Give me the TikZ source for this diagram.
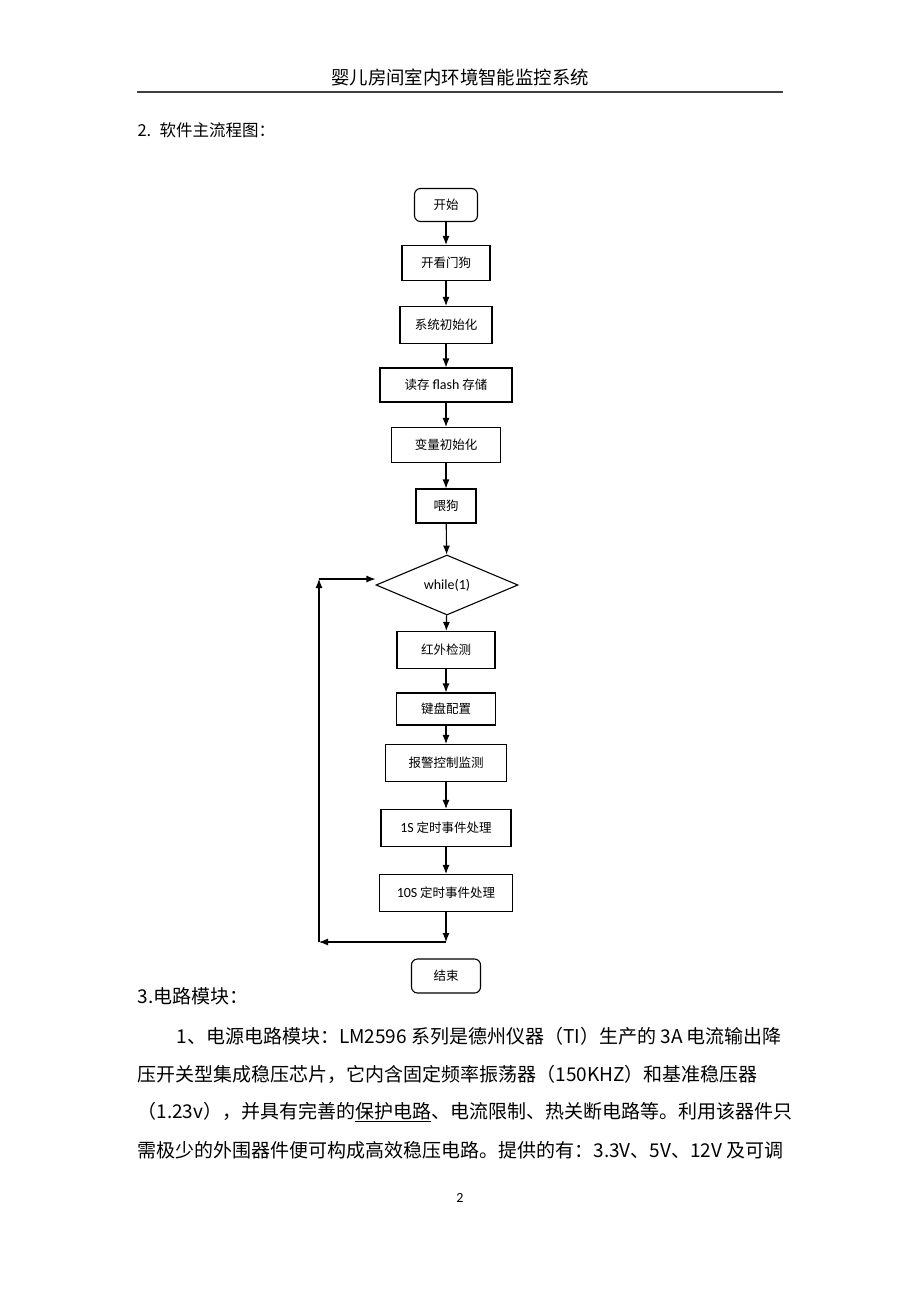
\documentclass[tikz,border=0pt]{standalone}
\usepackage{fontspec}
\setmainfont{Liberation Serif}
\newfontfamily\cjk{Noto Sans CJK SC}
\newfontfamily\latfont{Carlito}
\newcommand\lat[1]{{\latfont\fontsize{14}{15}\selectfont #1}}
\usetikzlibrary{shapes.geometric,arrows.meta}

\begin{document}
\begin{tikzpicture}[x=1pt,y=-1pt,>={Latex[length=9pt,width=7pt]},line width=1.1pt,
    flow node/.style={rectangle,draw,inner sep=0pt,minimum height=36pt,font=\cjk\fontsize{12.5}{14}\selectfont},
    term node/.style={flow node,rounded corners=6pt,minimum height=34pt},
    cond node/.style={diamond,draw,inner sep=0pt,minimum width=142pt,minimum height=60pt,font=\latfont\fontsize{14}{15}\selectfont},
    text line/.style={anchor=west,inner sep=0pt,font=\cjk\fontsize{19}{22}\selectfont}]

    \useasboundingbox (0,0) rectangle (920,1302);
    \fill[white] (0,0) rectangle (920,1302);

    % page header
    \node[font=\cjk\fontsize{18.4}{20}\selectfont] (head) at (460,77) {婴儿房间室内环境智能监控系统};
    \coordinate (hl) at (137,92);
    \coordinate (hr) at (783,92);
    \draw[line width=1.4pt,black!75] (hl) -- (hr);
    \node[text line,font=\cjk\fontsize{16.5}{18}\selectfont] (sec2) at (137,130) {2.\enspace 软件主流程图：};

    % flow chart
    \node[term node,minimum width=63pt,minimum height=33pt] (start) at (446,205) {开始};
    \node[flow node,minimum width=88pt,minimum height=35pt] (wdog) at (446,263) {开看门狗};
    \node[flow node,minimum width=92pt,minimum height=37pt] (sysinit) at (446,325) {系统初始化};
    \node[flow node,minimum width=132pt,minimum height=34pt] (flash) at (446,385) {读存 \lat{flash} 存储};
    \node[flow node,minimum width=109pt,minimum height=35pt] (varinit) at (446,445) {变量初始化};
    \node[flow node,minimum width=60pt,minimum height=34pt] (feed) at (446,506) {喂狗};
    \node[cond node] (loop) at (447,585) {while(1)};
    \node[flow node,minimum width=98pt,minimum height=37pt] (ir) at (446,650) {红外检测};
    \node[flow node,minimum width=99pt,minimum height=32pt] (key) at (446,709) {键盘配置};
    \node[flow node,minimum width=121pt,minimum height=37pt] (alarm) at (446,763) {报警控制监测};
    \node[flow node,minimum width=130pt,minimum height=37pt] (tone) at (446,828) {\lat{1S} 定时事件处理};
    \node[flow node,minimum width=133pt,minimum height=37pt] (tten) at (446,893) {\lat{10S} 定时事件处理};
    \node[term node,minimum width=69pt] (stop) at (446,976) {结束};

    \coordinate (back1) at (446,942);
    \coordinate (back2) at (319,942);
    \coordinate (back3) at (319,579);

    \draw[->] (start) -- (wdog);
    \draw[->] (wdog) -- (sysinit);
    \draw[->] (sysinit) -- (flash);
    \draw[->] (flash) -- (varinit);
    \draw[->] (varinit) -- (feed);
    \draw[->] (feed) -- (loop);
    \draw[->] (loop) -- (ir);
    \draw[->] (ir) -- (key);
    \draw[->] (key) -- (alarm);
    \draw[->] (alarm) -- (tone);
    \draw[->] (tone) -- (tten);
    \draw[->] (tten) -- (back1);
    \draw[->] (back1) -- (back2);
    \draw[->] (back2) -- (back3);
    \draw[->] (back3) -- (back3 -| loop.west);

    % body text
    \node[text line] (sec3) at (137,996) {3.电路模块：};
    \node[text line] (par1) at (176,1036) {1、电源电路模块：LM2596 系列是德州仪器（TI）生产的 3A 电流输出降};
    \node[text line] (par2) at (137,1074) {压开关型集成稳压芯片，它内含固定频率振荡器（150KHZ）和基准稳压器};
    \node[text line] (par3) at (137,1112) {（1.23v），并具有完善的\underline{保护电路}、电流限制、热关断电路等。利用该器件只};
    \node[text line] (par4) at (137,1150) {需极少的外围器件便可构成高效稳压电路。提供的有：3.3V、5V、12V 及可调};

    \node[font=\latfont\fontsize{14}{16}\selectfont] (pnum) at (460,1198) {2};
\end{tikzpicture}
\end{document}
